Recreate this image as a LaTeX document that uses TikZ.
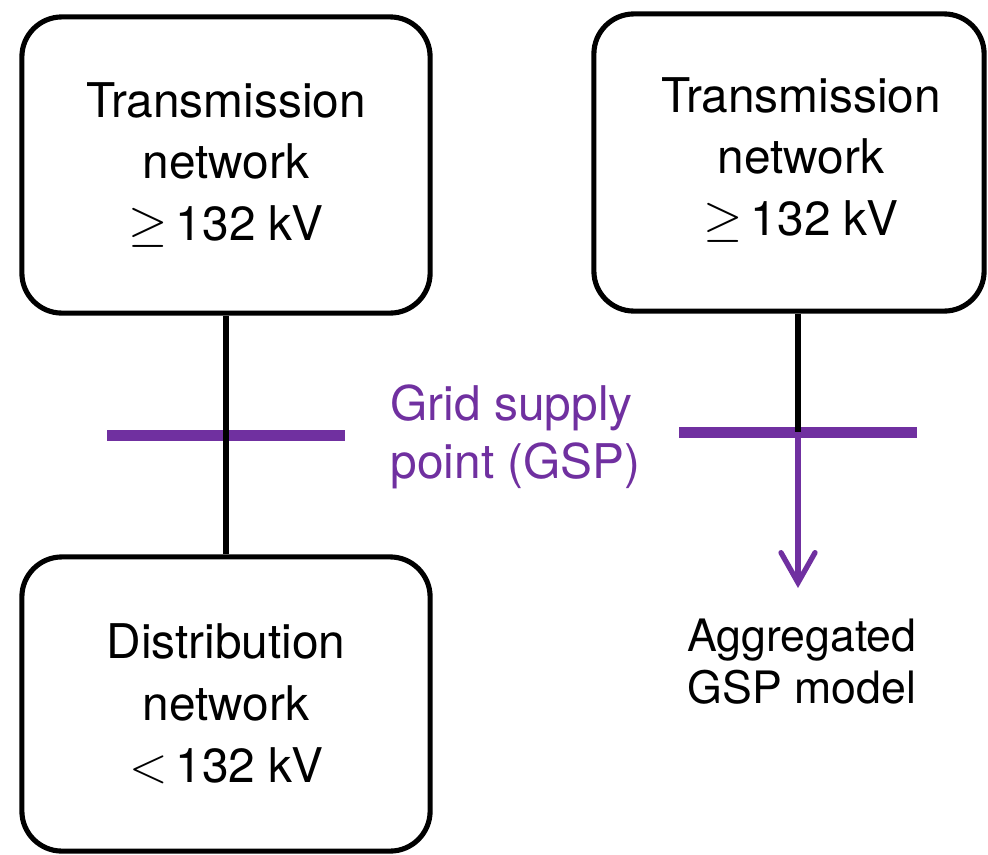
\documentclass[tikz,border=0pt]{standalone}
\usepackage{fontspec}
\setmainfont{TeX Gyre Heros}
\usetikzlibrary{arrows.meta,positioning}

\definecolor{gsppurple}{RGB}{112,48,160}

\tikzset{
  netbox/.style={draw=black, line width=1.45pt, rounded corners=0.4cm, inner sep=0pt,
    align=center, font=\fontsize{13.6}{17.6}\selectfont},
  busbar/.style={fill=gsppurple, draw=none, inner sep=0pt, minimum width=2.38cm, minimum height=0.11cm},
  link/.style={line width=1.45pt, black},
  feed/.style={line width=1.5pt, gsppurple, -{Straight Barb[length=0.3cm, width=0.34cm, line cap=round, line width=1.5pt]}}
}

\begin{document}
\begin{tikzpicture}[x=0.01cm, y=-0.01cm]
  \useasboundingbox (0,0) rectangle (988,854);

  % Boxes
  \node[netbox, minimum width=4.08cm, minimum height=2.96cm] (tnL) at (226,165)
    {Transmission\\network\\$\geq$\,132 kV};
  \node[netbox, minimum width=4.08cm, minimum height=2.94cm] (dnL) at (226,704)
    {Distribution\\network\\$<$\,132 kV};
  \node[netbox, minimum width=3.90cm, minimum height=2.97cm] (tnR) at (789,162.5) {};
  \node[align=center, inner sep=0pt, font=\fontsize{13.6}{17.6}\selectfont] (tnRtext) at (801,160)
    {Transmission\\network\\$\geq$\,132 kV};

  % Grid supply points
  \node[busbar] (busL) at (226,435.5) {};
  \node[busbar] (busR) at (798,432) {};
  \node[align=left, anchor=west, inner sep=0pt, text=gsppurple, font=\fontsize{13.6}{16.5}\selectfont]
    (gsp) at (390,437) {Grid supply\\point (GSP)};

  % Connectors
  \draw[link] (tnL.south) -- (dnL.north);
  \draw[link] (tnR.south -| busR.center) -- (busR.center);
  \coordinate (aggTip) at (798,588);
  \draw[feed] (busR.center) -- (aggTip);

  % Aggregated model
  \node[align=center, inner sep=0pt, font=\fontsize{12.7}{14.8}\selectfont] (agg) at (802,662)
    {Aggregated\\GSP model};
\end{tikzpicture}
\end{document}
